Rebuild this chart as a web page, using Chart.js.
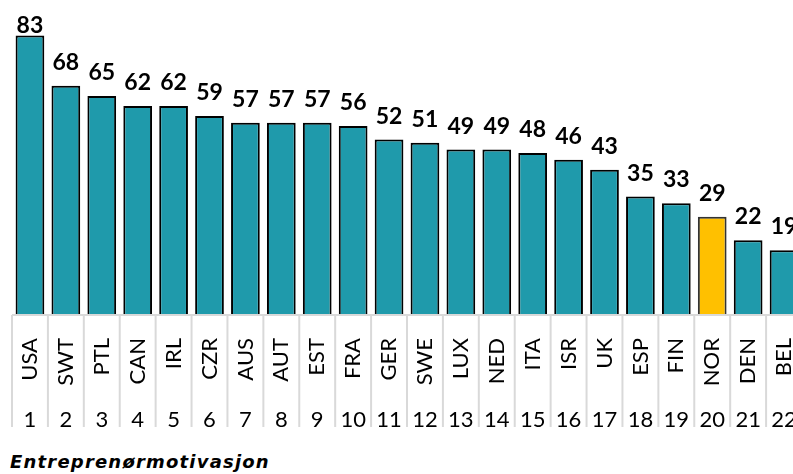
<!DOCTYPE html>
<html>
<head>
<meta charset="utf-8">
<script src="https://cdn.jsdelivr.net/npm/chart.js@4.4.0/dist/chart.umd.min.js"></script>
<style>
  html, body { margin: 0; padding: 0; background: #fff; overflow: hidden; width: 793px; height: 474px; }
  #box { position: absolute; left: 0; top: 0; width: 810px; height: 440px; }
  #title { position: absolute; left: 10px; top: 453px; font-family: 'DejaVu Sans', sans-serif; font-weight: bold; font-style: italic; font-size: 18px; letter-spacing: 1.2px; line-height: 18px; color: #000; white-space: nowrap; }
</style>
</head>
<body>
<div id="box"><canvas id="c"></canvas></div>
<div id="title">Entreprenørmotivasjon</div>
<script>
const countries = ["USA","SWT","PTL","CAN","IRL","CZR","AUS","AUT","EST","FRA","GER","SWE","LUX","NED","ITA","ISR","UK","ESP","FIN","NOR","DEN","BEL"];
const ranks = ["1","2","3","4","5","6","7","8","9","10","11","12","13","14","15","16","17","18","19","20","21","22"];
const values = [83,68,65,62,62,59,57,57,57,56,52,51,49,49,48,46,43,35,33,29,22,19];
const highlight = "NOR";

const TEAL = "#1f9aab";
const GOLD = "#ffc000";
const FONT = "Lato, 'DejaVu Sans', sans-serif";

const labelPlugin = {
  id: 'valueLabels',
  afterDatasetsDraw(chart) {
    const ctx = chart.ctx;
    const meta = chart.getDatasetMeta(0);
    ctx.save();
    ctx.font = "bold 23px " + FONT;
    ctx.fillStyle = "#000";
    ctx.textAlign = "center";
    ctx.textBaseline = "alphabetic";
    meta.data.forEach((bar, i) => {
      const y = Math.max(bar.y - 16, chart.chartArea.top + 21);
      ctx.fillText(String(values[i]), bar.x, y);
    });
    ctx.restore();
  }
};

const sepPlugin = {
  id: 'separators',
  afterDraw(chart) {
    const ctx = chart.ctx;
    const xs = chart.scales.x;
    const x2 = chart.scales.x2;
    const top = chart.chartArea.bottom + 1;
    const bottom = x2.bottom - 7;
    ctx.save();
    ctx.strokeStyle = "#d9d9d9";
    ctx.lineWidth = 2;
    ctx.beginPath();
    ctx.moveTo(xs.getPixelForValue(-0.5), top);
    ctx.lineTo(xs.getPixelForValue(countries.length - 0.5), top);
    for (let i = 0; i <= countries.length; i++) {
      const x = xs.getPixelForValue(i - 0.5);
      ctx.moveTo(x, top);
      ctx.lineTo(x, bottom);
    }
    ctx.stroke();
    ctx.restore();
  }
};

function fixAxis(h) {
  return function (s) {
    s.height = h;
    s.paddingLeft = 0;
    s.paddingRight = 0;
  };
}

new Chart(document.getElementById('c'), {
  type: 'bar',
  data: {
    labels: countries,
    datasets: [{
      data: values,
      backgroundColor: countries.map(c => c === highlight ? GOLD : TEAL),
      borderColor: countries.map(c => c === highlight ? "#333" : "#000"),
      borderWidth: 2,
      borderSkipped: 'bottom',
      categoryPercentage: 1.0,
      barPercentage: 0.8,
      xAxisID: 'x',
      yAxisID: 'y'
    }]
  },
  options: {
    responsive: true,
    maintainAspectRatio: false,
    devicePixelRatio: 1,
    animation: false,
    layout: { padding: { left: 12, right: 8, top: 12, bottom: 6 } },
    plugins: { legend: { display: false }, tooltip: { enabled: false }, title: { display: false } },
    scales: {
      y: { display: false, min: 0, max: 90 },
      x: {
        type: 'category',
        position: 'bottom',
        offset: true,
        grid: { display: false },
        border: { display: false },
        ticks: {
          minRotation: 90, maxRotation: 90, autoSkip: false, padding: 16,
          color: "#000", font: { family: FONT, size: 22 }
        },
        afterFit: fixAxis(80)
      },
      x2: {
        type: 'category',
        position: 'bottom',
        labels: ranks,
        offset: true,
        grid: { display: false },
        border: { display: false },
        ticks: {
          minRotation: 0, maxRotation: 0, autoSkip: false, padding: 5,
          color: "#000", font: { family: FONT, size: 22 }
        },
        afterFit: fixAxis(40)
      }
    }
  },
  plugins: [labelPlugin, sepPlugin]
});
</script>
</body>
</html>
